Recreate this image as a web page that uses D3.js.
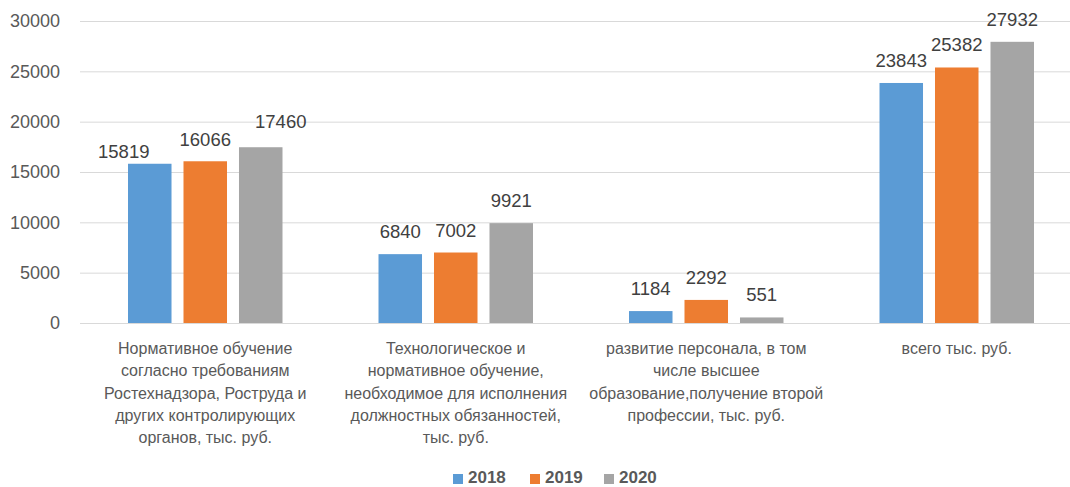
<!DOCTYPE html>
<html>
<head>
<meta charset="utf-8">
<script src="https://cdn.jsdelivr.net/npm/d3@7"></script>
<style>
  body { margin: 0; background: #fff; }
  svg { display: block; font-family: "Liberation Sans", Arial, sans-serif; }
</style>
</head>
<body>
<svg width="1070" height="487"></svg>
<script>
  const categories = [
    ['Нормативное обучение', 'согласно требованиям', 'Ростехнадзора, Роструда и', 'других контролирующих', 'органов, тыс. руб.'],
    ['Технологическое и', 'нормативное обучение,', 'необходимое для исполнения', 'должностных обязанностей,', 'тыс. руб.'],
    ['развитие персонала, в том', 'числе высшее', 'образование,получение второй', 'профессии, тыс. руб.'],
    ['всего тыс. руб.']
  ];
  const years = ['2018', '2019', '2020'];
  const values2018 = [15819, 6840, 1184, 23843];
  const values2019 = [16066, 7002, 2292, 25382];
  const values2020 = [17460, 9921, 551, 27932];
  const yTicks = [0, 5000, 10000, 15000, 20000, 25000, 30000];
  const colors = ['#5B9BD5', '#ED7D31', '#A5A5A5'];

  const series = [values2018, values2019, values2020];

  // label nudges (Excel moved the crowded labels of the first group)
  const labelNudge = {
    '0-2018': [-26, 10],
    '0-2019': [0, 1],
    '0-2020': [20, -3]
  };

  const svg = d3.select('svg');
  const textColor = '#595959';

  const y = d3.scaleLinear().domain([0, 30000]).range([323, 21]);
  const x = d3.scaleBand().domain(d3.range(categories.length)).range([80, 1082]);
  const xInner = d3.scaleBand().domain(years).range([0, x.bandwidth()])
    .paddingInner(0.216).paddingOuter(0.865);

  // gridlines
  const yAxis = d3.axisLeft(y).tickValues(yTicks).tickFormat(d3.format('d'))
    .tickSize(-(1070 - 80)).tickPadding(20);
  const yAxisG = svg.append('g')
    .attr('transform', 'translate(80,0)')
    .call(yAxis);
  yAxisG.select('.domain').remove();
  yAxisG.selectAll('.tick line').attr('stroke', '#D9D9D9').attr('stroke-width', 1);
  yAxisG.selectAll('.tick text')
    .attr('fill', textColor)
    .style('font-size', '18px')
    .attr('font-family', '"Liberation Sans", Arial, sans-serif');

  // bars
  const groups = svg.append('g').selectAll('g')
    .data(categories)
    .join('g')
    .attr('transform', (d, i) => `translate(${x(i)},0)`);

  groups.each(function (c, i) {
    const g = d3.select(this);
    const rows = years.map((yr, k) => ({ yr, k, v: series[k][i], n: labelNudge[i + '-' + yr] || [0, 0] }));
    g.selectAll('rect').data(rows).join('rect')
      .attr('x', d => xInner(d.yr))
      .attr('width', xInner.bandwidth())
      .attr('y', d => y(d.v))
      .attr('height', d => y(0) - y(d.v))
      .attr('fill', d => colors[d.k]);
    g.selectAll('text.lbl').data(rows).join('text')
      .attr('class', 'lbl')
      .attr('x', d => xInner(d.yr) + xInner.bandwidth() / 2 + d.n[0])
      .attr('y', d => y(d.v) - 16 + d.n[1])
      .attr('text-anchor', 'middle')
      .attr('fill', '#404040')
      .style('font-size', '18.5px')
      .text(d => d.v);
  });

  // category labels
  const catG = svg.append('g');
  categories.forEach((lines, i) => {
    const t = catG.append('text')
      .attr('text-anchor', 'middle')
      .attr('fill', textColor)
      .style('font-size', '16px');
    lines.forEach((ln, j) => {
      t.append('tspan')
        .attr('x', x(i) + x.bandwidth() / 2)
        .attr('y', 354 + j * 22.3)
        .text(ln);
    });
  });

  // legend
  const legendX = [453, 530, 604];
  const legend = svg.append('g');
  years.forEach((yr, k) => {
    legend.append('rect')
      .attr('x', legendX[k]).attr('y', 474)
      .attr('width', 10).attr('height', 10)
      .attr('fill', colors[k]);
    legend.append('text')
      .attr('x', legendX[k] + 15).attr('y', 483)
      .attr('fill', textColor)
      .style('font-size', '17px')
      .style('font-weight', 'bold')
      .text(yr);
  });
</script>
</body>
</html>
